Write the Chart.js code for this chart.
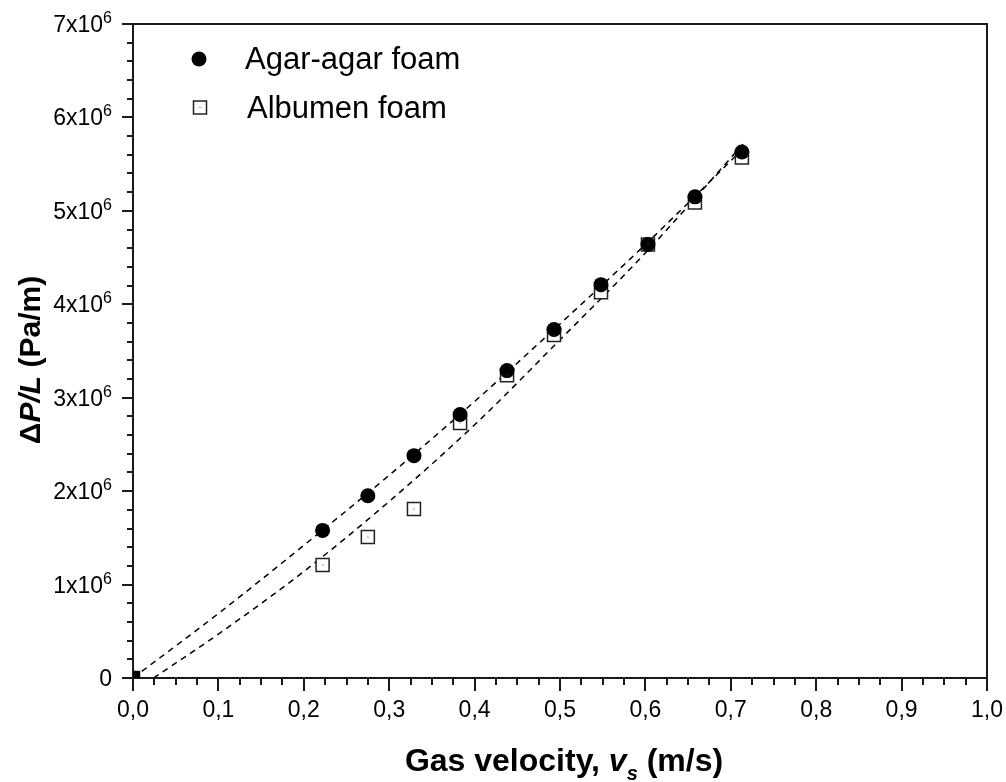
<!DOCTYPE html>
<html>
<head>
<meta charset="utf-8">
<script src="https://cdn.jsdelivr.net/npm/chart.js@4.4.1/dist/chart.umd.min.js"></script>
<style>
  html, body { margin: 0; padding: 0; background: #fff; }
  #wrap { width: 1006px; height: 782px; }
</style>
</head>
<body>
<div id="wrap"><canvas id="chart"></canvas></div>
<script>
// measured points (gas velocity in m/s, pressure drop in Pa/m)
const velocity = [0, 0.222, 0.275, 0.329, 0.383, 0.438, 0.493, 0.548, 0.603, 0.658, 0.713];
const agarDP = [0, 1.58e6, 1.95e6, 2.38e6, 2.82e6, 3.29e6, 3.73e6, 4.21e6, 4.64e6, 5.15e6, 5.63e6];
const albumenDP = [0, 1.21e6, 1.51e6, 1.81e6, 2.73e6, 3.24e6, 3.67e6, 4.13e6, 4.64e6, 5.09e6, 5.57e6];

// dashed fit curves
const agarFitV = [0, 0.1, 0.2, 0.3, 0.4, 0.5, 0.6, 0.715];
const agarFitDP = [0, 0.69e6, 1.42e6, 2.17e6, 2.96e6, 3.79e6, 4.64e6, 5.67e6];
const albFitV = [0.024, 0.1, 0.2, 0.3, 0.4, 0.5, 0.6, 0.715];
const albFitDP = [0, 0.47e6, 1.14e6, 1.89e6, 2.71e6, 3.62e6, 4.55e6, 5.72e6];

// axis ticks
const xTicks = [0, 0.1, 0.2, 0.3, 0.4, 0.5, 0.6, 0.7, 0.8, 0.9, 1.0];
const xTickLabels = ["0,0", "0,1", "0,2", "0,3", "0,4", "0,5", "0,6", "0,7", "0,8", "0,9", "1,0"];
const yTicks = [0, 1e6, 2e6, 3e6, 4e6, 5e6, 6e6, 7e6];
const yTickLabels = ["0", "1x10", "2x10", "3x10", "4x10", "5x10", "6x10", "7x10"];

const FONT = '"Liberation Sans", Arial, sans-serif';
const INK = "#1a1a1a";

const toXY = (xs, ys) => xs.map((x, i) => ({ x: x, y: ys[i] }));

// frame, ticks, labels, titles and legend drawn on top
const decor = {
  id: "decor",
  afterDatasetsDraw(chart) {
    const ctx = chart.ctx;
    const a = chart.chartArea;
    const sx = chart.scales.x;
    const sy = chart.scales.y;
    ctx.save();

    // small centre dot inside the open squares
    ctx.fillStyle = "#444";
    velocity.forEach((v, i) => {
      if (v === 0) return;
      ctx.fillRect(Math.round(sx.getPixelForValue(v)) - 0.5, Math.round(sy.getPixelForValue(albumenDP[i])) - 0.5, 1, 1);
    });

    ctx.strokeStyle = INK;
    ctx.lineWidth = 2;
    ctx.strokeRect(a.left, a.top, a.right - a.left, a.bottom - a.top);

    // x ticks: major 0.1, minor 0.025
    ctx.beginPath();
    for (let i = 0; i <= 40; i++) {
      const px = Math.round(sx.getPixelForValue(i * 0.025));
      const len = i % 4 === 0 ? 13 : 7;
      ctx.moveTo(px, a.bottom);
      ctx.lineTo(px, a.bottom + len);
    }
    // y ticks: major 1e6, minor 0.2e6
    for (let i = 0; i <= 35; i++) {
      const py = Math.round(sy.getPixelForValue(i * 0.2e6));
      const len = i % 5 === 0 ? 11 : 6;
      ctx.moveTo(a.left, py);
      ctx.lineTo(a.left - len, py);
    }
    ctx.stroke();

    // marker left at the origin
    ctx.fillStyle = "#000";
    ctx.fillRect(a.left, a.bottom - 7, 7, 7);

    // x tick labels
    ctx.font = "23px " + FONT;
    ctx.textAlign = "center";
    ctx.textBaseline = "alphabetic";
    xTicks.forEach((v, i) => {
      ctx.fillText(xTickLabels[i], sx.getPixelForValue(v), 717);
    });

    // y tick labels with superscript
    ctx.textAlign = "right";
    yTicks.forEach((v, i) => {
      const py = sy.getPixelForValue(v);
      const right = 112;
      if (v === 0) {
        ctx.font = "23px " + FONT;
        ctx.fillText(yTickLabels[i], right, py + 8);
        return;
      }
      ctx.font = "16px " + FONT;
      const supW = ctx.measureText("6").width;
      ctx.fillText("6", right, py - 1);
      ctx.font = "23px " + FONT;
      ctx.fillText(yTickLabels[i], right - supW, py + 8);
    });

    // x title: Gas velocity, v_s (m/s)
    ctx.textAlign = "left";
    const xParts = [
      { t: "Gas velocity, ", f: "bold 32px ", dy: 0 },
      { t: "v", f: "italic bold 32px ", dy: 0 },
      { t: "s", f: "italic bold 20px ", dy: 9 },
      { t: " (m/s)", f: "bold 32px ", dy: 0 }
    ];
    let w = 0;
    xParts.forEach(p => { ctx.font = p.f + FONT; w += ctx.measureText(p.t).width; });
    let cx = 564 - w / 2;
    xParts.forEach(p => {
      ctx.font = p.f + FONT;
      ctx.fillText(p.t, cx, 771 + p.dy);
      cx += ctx.measureText(p.t).width;
    });

    // y title: ΔP/L (Pa/m), rotated
    const yParts = [
      { t: "\u0394", f: "bold 30px " },
      { t: "P/L", f: "italic bold 30px " },
      { t: " (Pa/m)", f: "bold 30px " }
    ];
    ctx.save();
    ctx.translate(40, 360);
    ctx.rotate(-Math.PI / 2);
    w = 0;
    yParts.forEach(p => { ctx.font = p.f + FONT; w += ctx.measureText(p.t).width; });
    cx = -w / 2;
    yParts.forEach(p => {
      ctx.font = p.f + FONT;
      ctx.fillText(p.t, cx, 0);
      cx += ctx.measureText(p.t).width;
    });
    ctx.restore();

    // legend
    ctx.beginPath();
    ctx.arc(199, 59, 7.5, 0, Math.PI * 2);
    ctx.fill();
    ctx.fillStyle = "#fff";
    ctx.fillRect(193.5, 101, 13, 13);
    ctx.strokeStyle = "#222";
    ctx.lineWidth = 1.5;
    ctx.strokeRect(193.5, 101, 13, 13);
    ctx.fillStyle = "#444";
    ctx.fillRect(199.5, 107, 1, 1);
    ctx.fillStyle = "#000";
    ctx.font = "31px " + FONT;
    ctx.fillText("Agar-agar foam", 245, 69);
    ctx.fillText("Albumen foam", 247, 118);
    ctx.restore();
  }
};

new Chart(document.getElementById("chart"), {
  type: "scatter",
  data: {
    datasets: [
      {
        label: "Agar-agar foam",
        data: toXY(velocity, agarDP),
        pointStyle: "circle",
        pointRadius: 7.5,
        pointBackgroundColor: "#000",
        pointBorderColor: "#000",
        pointBorderWidth: 0,
        showLine: false,
        order: 0
      },
      {
        label: "Albumen foam",
        data: toXY(velocity, albumenDP),
        pointStyle: "rect",
        pointRadius: 9.2,
        pointBackgroundColor: "#fff",
        pointBorderColor: "#222",
        pointBorderWidth: 1.5,
        showLine: false,
        order: 1
      },
      {
        label: "Agar fit",
        data: toXY(agarFitV, agarFitDP),
        showLine: true,
        borderColor: "#000",
        borderWidth: 1.5,
        borderDash: [6, 5],
        pointRadius: 0,
        cubicInterpolationMode: "monotone",
        order: 2
      },
      {
        label: "Albumen fit",
        data: toXY(albFitV, albFitDP),
        showLine: true,
        borderColor: "#000",
        borderWidth: 1.5,
        borderDash: [6, 5],
        pointRadius: 0,
        cubicInterpolationMode: "monotone",
        order: 3
      }
    ]
  },
  options: {
    responsive: true,
    maintainAspectRatio: false,
    animation: false,
    layout: { padding: { left: 133, top: 24, right: 19, bottom: 104 } },
    plugins: {
      legend: { display: false },
      tooltip: { enabled: false }
    },
    scales: {
      x: { type: "linear", min: 0, max: 1, display: false },
      y: { type: "linear", min: 0, max: 7e6, display: false }
    }
  },
  plugins: [decor]
});
</script>
</body>
</html>
